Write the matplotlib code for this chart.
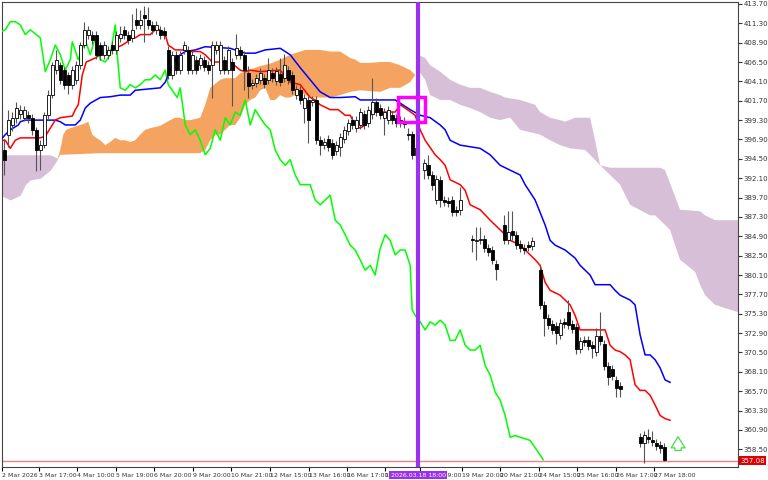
import numpy as np
import matplotlib
matplotlib.use('Agg')
import matplotlib.pyplot as plt
from matplotlib.transforms import blended_transform_factory

# candles (bar index, open, close, high, low)
bar_idx = list(range(1, 105)) + list(range(106, 116)) + list(range(118, 125)) + \
    list(range(126, 134)) + list(range(135, 156)) + list(range(160, 167))
ohlc = [
    (395.6, 394.4, 397.0, 392.5), (397.5, 399.3, 400.5, 396.0), (398.7, 399.6, 400.3, 398.0),
    (399.6, 400.8, 401.5, 399.0), (400.0, 400.6, 401.2, 399.5), (399.6, 400.6, 401.0, 399.2),
    (399.9, 399.6, 400.4, 399.0), (399.6, 398.1, 400.0, 397.5), (398.1, 395.6, 398.5, 393.0),
    (395.6, 396.2, 396.8, 393.1), (396.2, 399.9, 400.3, 395.8), (399.9, 402.4, 403.0, 399.5),
    (402.4, 406.1, 406.5, 402.0), (405.5, 406.8, 408.0, 405.0), (406.1, 404.3, 406.5, 403.8),
    (405.5, 403.7, 405.9, 403.2), (404.9, 403.7, 405.3, 402.5), (403.7, 405.5, 406.0, 403.2),
    (404.3, 406.1, 406.6, 403.8), (406.1, 408.6, 409.0, 405.6), (408.6, 410.5, 411.5, 408.2),
    (409.9, 410.5, 411.0, 409.4), (409.9, 409.2, 410.4, 408.7), (409.9, 407.4, 410.3, 406.9),
    (408.6, 407.4, 409.0, 406.8), (407.4, 408.6, 409.1, 406.9), (407.4, 408.0, 408.5, 406.9),
    (408.6, 408.0, 409.1, 407.5), (408.0, 409.9, 410.4, 407.5), (409.5, 410.0, 411.0, 409.0),
    (410.5, 409.9, 411.0, 409.4), (409.9, 409.2, 410.3, 408.7), (409.5, 410.5, 412.5, 409.0),
    (411.7, 411.1, 413.2, 410.6), (411.1, 411.7, 413.0, 410.6), (412.3, 412.0, 413.5, 409.0),
    (411.7, 411.1, 413.3, 410.6), (411.1, 410.5, 411.6, 410.0), (410.5, 411.1, 411.6, 410.0),
    (410.5, 409.9, 411.0, 409.4), (410.3, 409.9, 410.8, 409.4), (408.0, 404.9, 408.5, 404.4),
    (404.9, 407.4, 407.9, 404.4), (407.4, 405.5, 407.9, 405.0), (405.5, 407.4, 407.9, 405.0),
    (408.0, 408.6, 409.1, 407.5), (408.0, 405.5, 408.5, 405.0), (405.5, 407.4, 407.9, 405.0),
    (406.8, 405.5, 407.3, 405.0), (406.1, 407.0, 407.5, 405.6), (406.8, 405.9, 407.3, 405.4),
    (406.1, 405.5, 406.6, 405.0), (406.1, 408.6, 409.1, 402.0), (408.0, 408.6, 409.1, 407.5),
    (405.5, 408.6, 409.1, 405.0), (406.8, 405.5, 407.3, 405.0), (405.5, 408.0, 408.5, 405.0),
    (406.5, 405.5, 407.0, 401.0), (407.4, 408.2, 410.0, 406.9), (408.0, 407.4, 408.5, 406.9),
    (407.4, 405.5, 407.9, 403.0), (405.2, 403.5, 406.0, 402.0), (403.7, 403.9, 404.4, 403.2),
    (403.9, 404.5, 405.0, 403.4), (404.3, 405.2, 405.7, 403.8), (404.5, 403.8, 405.0, 403.3),
    (404.3, 405.5, 407.0, 403.8), (405.2, 404.5, 405.7, 404.0), (404.2, 405.4, 405.9, 403.7),
    (405.0, 404.0, 407.0, 403.5), (404.5, 406.1, 407.5, 404.0), (405.5, 404.3, 406.0, 403.8),
    (404.9, 403.0, 405.4, 402.5), (402.4, 403.2, 403.7, 401.9), (403.0, 401.8, 403.5, 401.3),
    (400.8, 402.0, 402.5, 399.0), (401.8, 399.3, 402.3, 396.5), (401.6, 401.8, 402.3, 401.1),
    (401.8, 396.8, 402.3, 396.3), (396.8, 396.2, 397.3, 395.0), (396.2, 396.6, 397.1, 395.7),
    (397.0, 396.0, 397.5, 395.5), (396.5, 395.0, 397.0, 394.5), (395.5, 396.2, 396.7, 395.0),
    (396.0, 397.2, 397.7, 394.8), (397.0, 398.1, 398.6, 396.5), (398.0, 399.0, 399.5, 397.5),
    (399.3, 398.7, 399.8, 398.2), (398.3, 399.3, 399.8, 397.8), (398.7, 400.3, 400.8, 398.2),
    (400.0, 398.7, 400.5, 398.2), (399.0, 400.5, 401.0, 398.5), (400.0, 401.6, 404.5, 399.5),
    (401.6, 400.3, 402.1, 399.8), (400.8, 399.9, 401.3, 399.4), (399.6, 400.3, 400.8, 397.5),
    (399.3, 400.6, 401.1, 398.8), (399.9, 399.3, 400.4, 398.8), (399.6, 399.0, 400.1, 398.5),
    (399.3, 399.0, 399.8, 398.5), (399.2, 398.8, 399.7, 398.3), (397.6, 397.5, 398.3, 396.8),
    (397.6, 395.0, 398.0, 394.5), (395.0, 395.8, 396.3, 394.0),
    (393.1, 394.0, 394.5, 392.0), (393.7, 392.5, 395.0, 392.0), (392.5, 391.2, 393.0, 390.7),
    (389.4, 392.0, 392.5, 388.9), (391.9, 389.4, 392.4, 388.5), (389.4, 389.2, 389.9, 388.7),
    (389.3, 389.0, 389.8, 388.5), (389.4, 387.9, 389.9, 387.4), (388.2, 387.9, 388.7, 387.4),
    (388.1, 389.4, 391.0, 387.6),
    (384.6, 384.4, 385.0, 383.0), (384.3, 384.5, 386.0, 382.0), (384.5, 384.6, 386.0, 384.0),
    (384.6, 383.5, 385.1, 383.0), (383.5, 383.0, 384.0, 382.5), (383.2, 382.0, 383.7, 381.5),
    (381.5, 380.9, 382.0, 379.5),
    (386.3, 384.4, 387.5, 383.9), (384.4, 385.4, 388.0, 383.9), (385.6, 385.0, 388.0, 384.5),
    (385.0, 383.8, 385.5, 383.3), (384.0, 383.5, 384.5, 383.0), (383.5, 383.2, 384.0, 382.7),
    (383.8, 383.6, 384.3, 383.1), (383.7, 384.3, 384.8, 383.2),
    (380.7, 376.4, 381.2, 375.9), (376.4, 374.8, 376.9, 372.5), (374.8, 373.9, 375.3, 373.4),
    (374.0, 373.3, 374.5, 372.8), (373.8, 372.9, 374.3, 371.5), (372.7, 374.2, 374.7, 372.2),
    (374.3, 374.0, 374.8, 373.5), (375.5, 373.9, 377.0, 373.4), (374.0, 373.4, 374.5, 372.9),
    (373.6, 370.9, 374.1, 370.3), (370.9, 371.9, 372.4, 370.4), (372.0, 371.8, 372.5, 371.3),
    (372.0, 371.3, 372.5, 370.8), (371.4, 371.1, 371.9, 369.8), (370.6, 372.6, 373.5, 370.1),
    (372.5, 371.9, 375.5, 371.4), (371.5, 368.8, 372.0, 368.3), (368.8, 367.4, 369.3, 366.5),
    (368.5, 367.6, 369.0, 367.1), (367.1, 366.1, 367.6, 365.0), (366.3, 366.0, 366.8, 365.0),
    (360.0, 359.3, 360.5, 358.8), (359.3, 360.3, 360.8, 356.8), (360.0, 359.8, 361.0, 359.3),
    (359.6, 359.4, 360.8, 358.9), (359.3, 358.9, 359.8, 358.4), (359.0, 358.6, 359.5, 358.1),
    (358.8, 357.2, 359.3, 357.0),
]

tenkan = [(0, 396.8), (1.25, 396.8), (2.5, 395.8), (3.75, 396.8), (5, 397.1), (10, 397.1), (11.25, 397.3),
          (12.5, 398.3), (13.75, 399.3), (15, 399.6), (18, 399.8), (18.75, 400.6), (19.5, 401.2), (20.5, 404.9),
          (21.5, 406.5), (23.75, 407.0), (25, 407.4), (27, 407.8), (28.75, 408.2), (30.5, 408.6), (31.75, 409.0),
          (32.5, 409.5), (33.75, 409.5), (35, 409.9), (37.5, 409.9), (38.75, 410.5), (40, 410.5), (41.25, 409.9),
          (42, 408.6), (43.75, 408.0), (46.25, 408.0), (47.5, 407.8), (50, 407.8), (51.25, 407.4), (53, 406.5),
          (57.5, 406.5), (60, 405.5), (61.25, 405.3), (62.5, 405.5), (65, 405.3), (70, 405.5), (72.5, 404.0),
          (75, 403.7), (77.5, 402.1), (78.75, 401.8), (80, 401.2), (82.5, 400.6), (84.5, 400.6), (86.25, 399.9),
          (87.5, 399.9), (88.75, 398.7), (90, 398.3), (91.25, 398.7), (93, 400.3), (98.75, 400.3), (100, 401.2),
          (101.25, 400.8), (103.75, 399.9), (105, 398.1), (106.25, 396.8), (108.75, 395.0), (110, 394.4),
          (111.25, 393.7), (112.5, 391.9), (115, 391.3), (116.25, 390.6), (117.5, 388.8), (120, 388.2),
          (122.5, 386.9), (123.75, 386.3), (125, 385.7), (126.25, 385.1), (127.5, 384.4), (130, 383.8),
          (131.25, 383.2), (132.5, 382.6), (133.75, 382.0), (135, 381.3), (136.25, 379.2), (137.5, 378.2),
          (140, 377.6), (141.25, 377.0), (142.5, 376.4), (143.75, 375.1), (145, 373.3), (151.25, 373.3),
          (152.5, 371.4), (153.75, 370.8), (155, 370.6), (156.25, 370.2), (157.5, 369.6), (158.75, 366.5),
          (160, 365.8), (161.25, 365.8), (162.5, 365.2), (163.75, 364.0), (165, 362.7), (166.25, 362.3),
          (167.5, 362.1)]

kijun = [(0, 396.8), (1.25, 397.5), (2.5, 398.1), (4.5, 398.7), (5, 399.1), (6.25, 399.3), (13.75, 399.3),
         (15, 399.1), (16.25, 398.7), (18.75, 398.7), (20, 399.3), (21.25, 400.8), (22.5, 401.4), (25, 402.1),
         (27.5, 402.2), (30, 402.4), (32.5, 402.4), (33.75, 403.0), (40, 403.3), (41.25, 404.0), (42.5, 405.5),
         (43.75, 406.8), (45, 407.4), (46.25, 407.8), (48.75, 408.0), (50, 408.2), (51.25, 408.4), (57.5, 408.2),
         (60, 407.8), (61.25, 407.6), (63.75, 407.6), (66.25, 408.0), (70, 408.2), (72.5, 407.4), (75, 405.8),
         (77.5, 404.3), (80, 402.8), (82.5, 402.1), (85, 402.1), (88.75, 402.2), (90, 401.8), (98.75, 401.8),
         (102.5, 400.6), (105, 399.9), (107.5, 399.6), (110, 398.7), (111.25, 398.1), (112.5, 396.8),
         (115, 396.2), (120, 395.8), (122.5, 395.0), (125, 393.7), (127.5, 393.1), (130, 392.5),
         (131.25, 391.3), (133.75, 389.4), (136.25, 386.3), (137.5, 384.4), (138.75, 383.8), (141.25, 383.2),
         (143.75, 382.2), (145, 381.3), (146.25, 380.7), (147.5, 380.1), (148.75, 378.9), (152.5, 378.9),
         (153.75, 378.2), (155, 377.6), (157.5, 377.0), (158.75, 376.4), (160, 372.7), (161.25, 370.2),
         (162.5, 370.2), (163.75, 369.6), (165, 368.6), (166.25, 367.1), (167.5, 366.8)]

chikou = [(0, 410.2), (1.25, 410.5), (2.5, 411.5), (3.75, 411.5), (5, 411.1), (6.25, 409.9), (7.5, 410.5),
          (10, 409.5), (11.25, 405.3), (12.5, 406.8), (13.75, 408.6), (15, 407.4), (16.25, 405.5), (17.5, 406.8),
          (18, 409.0), (19.5, 406.8), (21.25, 409.2), (22.5, 407.4), (23.75, 409.5), (25, 406.8), (26.25, 406.5),
          (27.5, 407.4), (28.75, 411.1), (29.25, 407.4), (30, 403.3), (31.25, 403.0), (32.5, 403.7),
          (33.75, 403.3), (35, 403.7), (36.25, 404.3), (37.5, 404.3), (38.75, 404.9), (40, 404.3), (41.25, 405.5),
          (42, 403.7), (43, 403.0), (44.25, 402.1), (45, 403.3), (46.25, 398.7), (47.5, 397.5), (48.75, 398.1),
          (50, 396.8), (51.25, 395.0), (52.5, 395.8), (53.75, 398.1), (55, 396.8), (56.25, 399.6), (57.5, 398.7),
          (58.75, 400.3), (60, 399.9), (61.25, 401.8), (62.5, 398.7), (63.75, 400.6), (65, 399.6), (66.25, 398.7),
          (67.5, 398.1), (68.75, 395.6), (70, 394.4), (71.25, 393.7), (72.5, 394.4), (73.75, 392.5), (75, 391.3),
          (77.5, 391.3), (78.75, 389.4), (80, 388.8), (82.5, 390.0), (83.75, 386.9), (85, 386.3), (86.25, 385.1),
          (87.5, 383.8), (88.75, 383.2), (90, 382.0), (91.25, 380.7), (92.5, 381.3), (93.75, 380.1),
          (95, 383.4), (96.25, 385.1), (97.5, 384.4), (98.75, 382.6), (100, 383.2), (101.25, 383.2),
          (102.5, 381.3), (103, 375.8), (103.75, 375.1), (105, 374.3), (106.25, 373.3), (107.5, 374.3),
          (108.75, 373.9), (110, 374.5), (111.25, 373.9), (112.5, 372.0), (113.75, 372.0), (115, 373.3),
          (116.25, 371.4), (117.5, 370.8), (118.75, 370.8), (120, 371.4), (121.25, 368.9), (122.5, 367.7),
          (123.75, 365.6), (125, 364.6), (126.25, 362.7), (127.5, 360.0), (128.75, 360.2), (130, 360.0),
          (132.5, 359.6), (135, 357.8), (135.75, 357.2)]

# kumo clouds
kumo_left_x = [0, 2.5, 5, 6.25, 7.5, 10, 12.5, 14.25]
kumo_left_top = [395.0, 395.0, 395.0, 395.0, 395.0, 395.0, 395.0, 394.6]
kumo_left_bot = [390.0, 389.4, 390.0, 391.3, 391.9, 392.1, 393.1, 394.4]

kumo_up_top = [(14.25, 394.4), (15, 395.6), (15.75, 397.5), (16.5, 398.1), (17.5, 398.3), (20, 398.7),
               (21.25, 398.9), (22, 399.1), (23, 397.5), (24, 397.1), (25, 396.8), (26.25, 396.2), (27.5, 396.6),
               (28.75, 397.1), (30, 396.8), (31.25, 396.8), (32.5, 396.6), (33.75, 396.8), (35, 397.5),
               (36.25, 398.1), (37.5, 398.3), (40, 398.6), (42.5, 399.3), (43.75, 399.6), (45, 399.6),
               (46.25, 399.3), (47.5, 399.3), (50, 399.6), (51.25, 401.2), (52.5, 403.3), (55, 404.3),
               (56.25, 404.5), (58.75, 404.5), (60, 405.1), (61.25, 405.3), (62.5, 405.5), (63.75, 405.8),
               (65, 406.0), (67.5, 406.3), (70, 406.8), (72.5, 407.4), (75, 407.8), (76.25, 408.0), (80, 408.0),
               (82.5, 407.8), (85, 407.8), (86.25, 407.4), (87.5, 407.0), (88.75, 406.8), (90, 406.4),
               (92.5, 406.4), (95, 406.5), (97.5, 406.5), (100, 406.1), (102.5, 405.5), (103.75, 404.9)]
kumo_up_bot = [(14.25, 394.4), (15, 395.0), (25, 395.2), (50, 395.2), (51.25, 395.6), (52.5, 396.8),
               (53.75, 397.5), (55, 397.5), (56.25, 398.1), (57.5, 398.7), (58.75, 398.7), (60, 399.6),
               (61.25, 401.2), (62.5, 401.8), (63.75, 402.1), (65, 403.0), (66.25, 403.3), (67.5, 401.8),
               (68.75, 401.8), (70, 402.4), (71.25, 402.1), (72.5, 402.1), (73.75, 402.4), (75, 402.8),
               (77.5, 402.1), (82.5, 402.1), (85, 402.4), (87.5, 402.8), (90, 403.0), (95, 402.8), (97.5, 403.3),
               (100, 403.3), (102.5, 404.0), (103.75, 404.9)]

kumo_dn_top = [(104.5, 407.4), (106.25, 407.0), (107.5, 406.1), (110, 405.3), (112.5, 404.3), (115, 403.7),
               (117.5, 403.3), (120, 403.3), (122.5, 402.8), (125, 402.4), (126.25, 402.1), (130, 401.8),
               (133.75, 401.2), (135, 400.3), (137.5, 399.6), (140, 399.3), (141.25, 399.1), (143.75, 399.6),
               (147.5, 399.6), (148.75, 396.8), (150, 393.7), (152.5, 393.4), (165, 393.4), (166.25, 393.1),
               (170, 388.2), (175, 388.0), (176.25, 387.5), (178.75, 386.9), (184.5, 386.9)]
kumo_dn_bot = [(104.5, 405.5), (106.25, 404.3), (107.5, 402.4), (110, 401.8), (112.5, 401.8), (115, 401.2),
               (117.5, 400.8), (120, 400.3), (122.5, 399.6), (125, 399.3), (127.5, 399.6), (130, 398.1),
               (135, 397.5), (137.5, 396.8), (140, 396.2), (142.5, 395.8), (146.25, 395.6), (147.5, 395.0),
               (150, 393.7), (152.5, 392.5), (155, 391.3), (157.5, 388.8), (162.5, 387.5), (163.75, 387.5),
               (167.5, 385.7), (168.75, 383.8), (170, 382.0), (172.5, 381.0), (173.75, 380.5), (175, 378.9),
               (176.25, 377.6), (178.75, 376.4), (181.25, 376.0), (184.5, 375.5)]

date_pos = [0.5, 9.75, 19.25, 29, 38.5, 48.25, 57.75, 67.5, 77.25, 86.75, 96.25, 105.0, 115.5, 125, 134.75,
            144.25, 154, 163.5]
date_labels = ['2 Mar 2026', '3 Mar 17:00', '4 Mar 10:00', '5 Mar 19:00', '6 Mar 20:00', '9 Mar 20:00',
               '10 Mar 21:00', '12 Mar 15:00', '13 Mar 16:00', '16 Mar 17:00', '17 Mar 18:00', '18 Mar 19:00',
               '19 Mar 20:00', '20 Mar 21:00', '24 Mar 15:00', '25 Mar 16:00', '26 Mar 17:00', '27 Mar 18:00']
price_ticks = [358.50 + 2.4 * k for k in range(24)]
last_price = 357.08
signal_bar = 104.5
signal_box = (99.5, 106.25, 399.1, 402.2)
arrow_bar, arrow_price = 169.5, 358.2

fig = plt.figure(figsize=(7.68, 4.8), dpi=100)
ax = fig.add_axes([0.003, 0.027, 0.958, 0.969])
ax.set_xlim(0.5, 184.5)
ax.set_ylim(356.3, 413.95)

def poly(pts):
    return [p[0] for p in pts], [p[1] for p in pts]

ax.fill_between(kumo_left_x, kumo_left_bot, kumo_left_top, color='#d8bfd8', lw=0, zorder=1)
tx, ty = poly(kumo_up_top); bx, by = poly(kumo_up_bot)
ax.fill(tx + bx[::-1], ty + by[::-1], color='#f4a460', lw=0, zorder=1)
tx, ty = poly(kumo_dn_top); bx, by = poly(kumo_dn_bot)
ax.fill(tx + bx[::-1], ty + by[::-1], color='#d8bfd8', lw=0, zorder=1)

for pts, col in ((chikou, '#00ff00'), (kijun, '#0000ff'), (tenkan, '#ff0000')):
    x, y = poly(pts)
    ax.plot(x, y, color=col, lw=1.1, zorder=3)

for i, (o, c, h, l) in zip(bar_idx, ohlc):
    ax.vlines(i, l, h, color='#555555', lw=0.8, zorder=4)
    bottom, height = min(o, c), max(abs(c - o), 0.12)
    face = 'white' if c > o else 'black'
    ax.bar(i, height, bottom=bottom, width=0.75, color=face, edgecolor='black', lw=0.6, zorder=5)

ax.axhline(last_price, color='#f08080', lw=1.0, zorder=2)
ax.axvline(signal_bar, color='#9b30ee', lw=3, zorder=6)
x0, x1, y0, y1 = signal_box
ax.add_patch(plt.Rectangle((x0, y0), x1 - x0, y1 - y0, fill=False, ec='#ff00ff', lw=2.5, zorder=7))
ax.annotate('', xy=(arrow_bar, arrow_price + 2.2), xytext=(arrow_bar, arrow_price - 0.2),
            arrowprops=dict(arrowstyle='simple,head_width=1.0,head_length=0.8,tail_width=0.45',
                            fc='white', ec='#44dd44', lw=0.9), zorder=7)

ax.yaxis.tick_right()
ax.set_yticks(price_ticks)
ax.set_yticklabels([f'{v:.2f}' for v in price_ticks], fontsize=5)
ax.tick_params(axis='y', length=3, pad=1, colors='#333333')
ax.set_xticks(date_pos)
ax.set_xticklabels([])
ax.tick_params(axis='x', length=3, direction='out')
for p, lab in zip(date_pos, date_labels):
    ax.text(p, -0.012, lab, transform=blended_transform_factory(ax.transData, ax.transAxes),
            fontsize=4.5, ha='left', va='top', color='#333333')
ax.text(signal_bar, -0.012, '2026.03.18 18:00', transform=blended_transform_factory(ax.transData, ax.transAxes),
        fontsize=4.5, ha='center', va='top', color='white', zorder=10,
        bbox=dict(boxstyle='square,pad=0.2', fc='#9b30ee', ec='none'))
ax.text(1.003, last_price, f'{last_price:.2f}', transform=blended_transform_factory(ax.transAxes, ax.transData),
        fontsize=5, ha='left', va='center', color='white',
        bbox=dict(boxstyle='square,pad=0.2', fc='#e00000', ec='none'))
for s in ax.spines.values():
    s.set_color('#444444')
    s.set_linewidth(0.8)

fig.savefig('out.png', dpi=100)
